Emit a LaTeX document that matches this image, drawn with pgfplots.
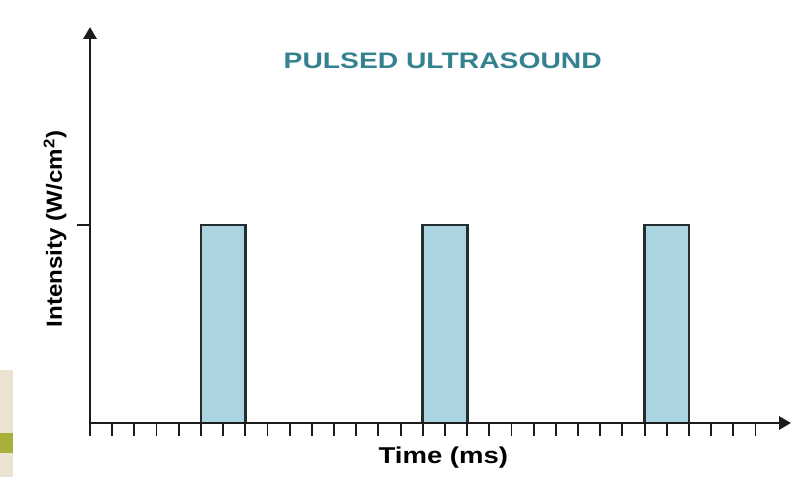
\documentclass[border=0pt]{standalone}
\usepackage{pgfplots}
\pgfplotsset{compat=1.18}
\usepackage{fontspec}
\setmainfont{Liberation Sans}
\usetikzlibrary{arrows.meta}
\definecolor{barfill}{RGB}{170,212,224}
\definecolor{baredge}{RGB}{36,46,48}
\definecolor{titlecol}{RGB}{52,130,144}
\definecolor{axiscol}{RGB}{28,28,28}
\definecolor{slidebeige}{RGB}{236,226,210}
\definecolor{slidegreen}{RGB}{168,176,60}
\begin{document}
\begin{tikzpicture}[x=1bp,y=1bp]
\path[use as bounding box] (-90,-54) rectangle (707,423);
\fill[white] (-90,-54) rectangle (707,423);
% slide background sliver at left
\fill[slidebeige] (-90,-54) rectangle (-77,53);
\fill[slidegreen] (-90,-30) rectangle (-77,-10);
\begin{axis}[
  at={(0,0)}, anchor=origin,
  scale only axis, width=701bp, height=396bp,
  xmin=0, xmax=31.6, ymin=0, ymax=2.0,
  axis lines=left,
  axis line style={draw=axiscol, line width=3pt, -{Triangle[length=12bp,width=13bp]}},
  xtick={0,1,...,30}, xticklabels={},
  ytick={1}, yticklabels={},
  tick align=outside,
  major tick length=13bp,
  tick style={draw=axiscol, line width=1.9pt},
  clip=false,
  axis on top,
  xlabel={\bfseries\scalebox{1.2}[1]{Time (ms)}},
  xlabel style={at={(axis description cs:0.504,-0.088)}, anchor=center, font=\fontsize{23}{26}\selectfont},
  ylabel={\bfseries\scalebox{1.1}[1]{Intensity (W/cm\textsuperscript{2})}},
  ylabel style={at={(axis description cs:-0.05,0.49)}, anchor=center, rotate=0, font=\fontsize{22}{25}\selectfont},
]
\addplot[ybar, bar width=2, fill=barfill, draw=baredge, line width=2.8pt]
  coordinates {(6,1) (16,1) (26,1)};
\node[font=\fontsize{22.5}{25}\selectfont\bfseries, text=titlecol] at (axis cs:15.9,1.83)
  {\scalebox{1.26}[1]{PULSED ULTRASOUND}};
\end{axis}
\end{tikzpicture}
\end{document}
